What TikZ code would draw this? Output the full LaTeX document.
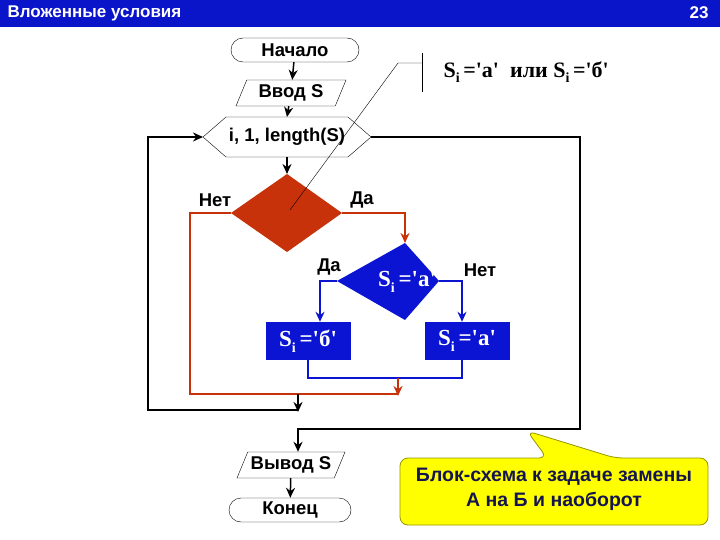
\documentclass[tikz,border=0pt]{standalone}
\usepackage{fontspec}
\setmainfont{Liberation Sans}
\newfontfamily\serf{Liberation Serif}
\usetikzlibrary{shapes.geometric,arrows.meta}
\definecolor{ttl}{RGB}{10,20,200}
\definecolor{dred}{RGB}{200,50,10}
\definecolor{bblue}{RGB}{10,20,210}
\definecolor{yel}{RGB}{255,255,0}
\newcommand{\Si}{S\raisebox{-0.25em}{\fontsize{14}{15}\selectfont i}\,}
\begin{document}
\begin{tikzpicture}[x=1pt,y=-1pt,
  lbl/.style={font=\fontsize{18.5}{20}\selectfont\bfseries},
  term/.style={draw,rounded corners=12pt,minimum width=128pt,minimum height=24pt,lbl,inner sep=0pt},
  io/.style={draw,trapezium,trapezium left angle=60,trapezium right angle=120,minimum width=80pt,minimum height=26pt,lbl,inner sep=1pt,trapezium stretches body},
  bl/.style={draw=bblue,line width=2pt,-{Stealth[length=10pt,width=9pt]}},
  rl/.style={draw=dred,line width=2pt,-{Stealth[length=10pt,width=9pt]}},
  kl/.style={draw=black,line width=2pt,-{Stealth[length=10pt,width=9pt]}},
  sbox/.style={fill=bblue,minimum width=85pt,minimum height=38pt,text=white,font=\serf\fontsize{23}{24}\selectfont\bfseries,inner sep=0pt}]
\useasboundingbox (0,0) rectangle (720,540);
\fill[white] (0,0) rectangle (720,540);
\fill[ttl] (0,0) rectangle (720,27);
\node[anchor=west,text=white,font=\fontsize{17}{18}\selectfont\bfseries] (title) at (4,13) {Вложенные условия};
\node[anchor=east,text=white,font=\fontsize{17}{18}\selectfont\bfseries] (pg) at (712,13) {23};
% nodes
\node[term] (start) at (295,50) {Начало};
\node[io,minimum width=110pt] (in) at (291,93) {Ввод S};
\draw (203,137) -- (226,117) -- (348,117) -- (371,137) -- (348,157) -- (226,157) -- cycle;
\coordinate (hexL) at (203,137); \coordinate (hexR) at (371,137);
\node[lbl] (loop) at (287,137) {i, 1, length(S)};
\coordinate (hexT) at (287,117); \coordinate (hexB) at (287,157);
\fill[dred] (287,174) -- (342,213) -- (287,252) -- (231,213) -- cycle;
\coordinate (d1T) at (287,174); \coordinate (d1L) at (231,213); \coordinate (d1R) at (342,213); \coordinate (d1C) at (290,210);
\node[lbl] (net1) at (215,200) {Нет};
\node[lbl] (da1) at (362,200) {Да};
\fill[bblue] (405,243) -- (439,281) -- (405,320) -- (337,281) -- cycle;
\coordinate (d2T) at (405,243); \coordinate (d2L) at (337,281); \coordinate (d2R) at (439,281);
\node[text=white,font=\serf\fontsize{23}{24}\selectfont\bfseries] (d2) at (407,282) {\Si='a'};
\node[lbl] (da2) at (329,267) {Да};
\node[lbl] (net2) at (480,270) {Нет};
\node[sbox] (b1) at (308,341) {\Si='б'};
\node[sbox] (b2) at (467,341) {\Si='a'};
\node[io,minimum width=108pt] (out) at (291,465) {Вывод S};
\node[term,minimum width=122pt] (end) at (290,510) {Конец};
% connectors
\draw[kl,line width=1.5pt] (start) -- (in);
\draw[kl,line width=1.5pt] (in) -- (hexT);
\draw[kl,line width=1.5pt] (hexB) -- (d1T);
\draw[rl] (d1R) -- (405,213) -- (d2T);
\draw[bl] (d2L) -| (b1.north -| 320,0);
\draw[bl] (d2R) -| (b2.north -| 462,0);
\draw[draw=bblue,line width=2pt] (b1.south) -- (308,378) -- (462,378) -- (b2.south -| 462,0);
\draw[rl] (398,378) -- (398,396);
\draw[draw=dred,line width=2pt] (d1L) -- (190,213) -- (190,394) -- (398,394);
\draw[kl] (298,394) -- (298,412);
\draw[kl] (298,410) -- (148,410) -- (148,137) -- (hexL);
\draw[kl] (hexR) -- (580,137) -- (580,429) -- (298,429) -- (out.north -| 298,0);
\draw[kl,line width=1.5pt] (out) -- (end);
% annotation
\draw (d1C) -- (398,63) -- (422,63);
\draw (422,53) -- (422,92);
\node[font=\serf\fontsize{22}{24}\selectfont\bfseries,anchor=west] (note) at (440,72) {\Si='a'\ \ или \Si='б'};
% callout
\draw[draw={rgb,255:red,150;green,150;blue,0},fill=yel,line width=0.8pt,rounded corners=8pt] (400,458) -- (547,458) -- (527,431) -- (615,458) -- (708,458) -- (708,525) -- (400,525) -- cycle;
\node[align=center,text={rgb,255:red,20;green,20;blue,80},font=\fontsize{19.5}{25}\selectfont\bfseries] (call) at (554,489) {Блок-схема к задаче замены\\А на Б и наоборот};
\end{tikzpicture}
\end{document}
